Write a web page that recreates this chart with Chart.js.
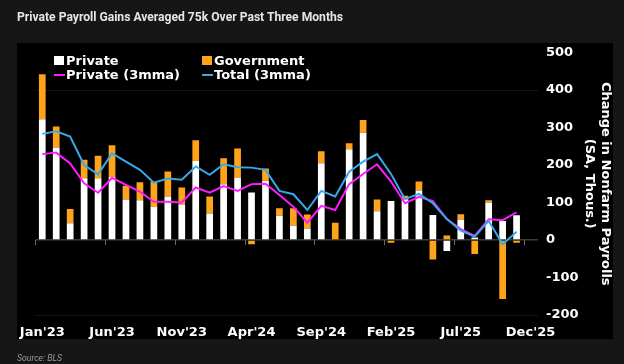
<!DOCTYPE html>
<html><head><meta charset="utf-8">
<script src="https://cdn.jsdelivr.net/npm/chart.js@4.4.1/dist/chart.umd.min.js"></script>
<style>
html,body{margin:0;padding:0;background:#161616;width:624px;height:364px;overflow:hidden;}
#box{position:absolute;left:17px;top:43px;width:596px;height:296px;background:#000;}
#c{position:absolute;left:0;top:0;}
#title{position:absolute;left:17px;top:10px;font:bold 13px Roboto;line-height:13px;color:#e6e6e6;white-space:nowrap;transform-origin:0 0;}
#src{position:absolute;left:17px;top:354px;font:italic 9px Roboto;line-height:9px;color:#9a9a9a;white-space:nowrap;transform-origin:0 0;}
.lt{position:absolute;font:bold 13px "DejaVu Sans";line-height:15px;color:#fff;white-space:nowrap;}
.sw{position:absolute;}
</style></head>
<body>
<div id="box"></div>
<canvas id="c" width="624" height="364"></canvas>
<div id="title">Private Payroll Gains Averaged 75k Over Past Three Months</div>
<div id="src">Source: BLS</div>
<div id="legend"></div>
<script>
const months = ["Jan'23","Feb'23","Mar'23","Apr'23","May'23","Jun'23","Jul'23","Aug'23","Sep'23","Oct'23","Nov'23","Dec'23",
"Jan'24","Feb'24","Mar'24","Apr'24","May'24","Jun'24","Jul'24","Aug'24","Sep'24","Oct'24","Nov'24","Dec'24",
"Jan'25","Feb'25","Mar'25","Apr'25","May'25","Jun'25","Jul'25","Aug'25","Sep'25","Oct'25","Nov'25","Dec'25"];
const privateJobs = [322,247,45,165,165,168,108,106,88,116,95,211,71,149,167,127,158,65,38,31,205,2,242,286,77,104,109,132,67,-29,55,7,100,51,66,null];
const governmentJobs = [120,56,38,49,60,85,37,48,68,67,45,55,45,69,77,-11,33,20,47,37,32,44,16,34,31,-7,9,24,-52,12,14,-37,6,-157,-7,null];
const private3mma = [229,233,204,151,126,166,147,129,102,102,100,140,126,144,131,149,150,120,89,46,91,80,149,176,202,156,98,115,104,56,29,11,55,53,74,null];
const total3mma = [283,290,276,200,175,231,209,187,153,164,161,196,174,202,194,193,187,131,122,80,131,116,182,209,229,176,109,123,98,56,25,9,51,-11,22,null];
const yTicks = [-200,-100,0,100,200,300,400,500];
const axisTitle = ['Change in Nonfarm Payrolls','(SA, Thous.)'];

const WHITE='#ffffff', ORANGE='#FFA31A', MAGENTA='#FF1AFF', BLUE='#35A9EA';
const tickFont={family:'DejaVu Sans',size:13,weight:'bold'};

const zeroTicks={id:'zeroTicks',afterDatasetsDraw(c){
  const x=c.scales.x,y=c.scales.y,ctx=c.ctx;
  const y0=y.getPixelForValue(0);
  const w=x.getPixelForValue(1)-x.getPixelForValue(0);
  ctx.save();ctx.strokeStyle='#6a6a6a';ctx.lineWidth=1;
  for(let i=0;i<months.length;i+=5){
    const px=Math.round(x.getPixelForValue(i)-w/2)+0.5;
    ctx.beginPath();ctx.moveTo(px,y0);ctx.lineTo(px,y0+5);ctx.stroke();
  }
  ctx.restore();
}};

const chart=new Chart(document.getElementById('c'),{
  type:'bar',
  data:{labels:months,datasets:[
    {label:'Private',data:privateJobs,backgroundColor:WHITE,borderWidth:0,stack:'bars',order:2,barPercentage:0.48,categoryPercentage:1},
    {label:'Government',data:governmentJobs,backgroundColor:ORANGE,borderWidth:0,stack:'bars',order:2,barPercentage:0.48,categoryPercentage:1},
    {type:'line',label:'Private (3mma)',data:private3mma,borderColor:MAGENTA,backgroundColor:MAGENTA,borderWidth:2,pointRadius:0,tension:0,stack:'m',order:1},
    {type:'line',label:'Total (3mma)',data:total3mma,borderColor:BLUE,backgroundColor:BLUE,borderWidth:2,pointRadius:0,tension:0,stack:'t',order:0}
  ]},
  options:{
    responsive:false,animation:false,
    layout:{padding:{left:35.3,top:52.5,right:0,bottom:0}},
    plugins:{legend:{display:false},tooltip:{enabled:false},title:{display:false}},
    scales:{
      x:{stacked:true,offset:true,grid:{display:false,drawTicks:false},border:{display:false},
        ticks:{autoSkip:false,maxRotation:0,minRotation:0,padding:10,color:'#ffffff',font:tickFont,
          callback:(v,i)=> i%5===0?months[i]:''},
        afterFit:s=>{s.height=49;}},
      y:{position:'right',stacked:true,min:-200,max:500,
        afterBuildTicks:s=>{s.ticks=yTicks.map(v=>({value:v}));},
        ticks:{padding:8.5,color:'#ffffff',font:tickFont},
        grid:{drawTicks:false,
          color:ctx=>{const v=ctx.tick&&ctx.tick.value; return v===0?'#3c3c3c':(v===400||v===-200?'#161616':'rgba(0,0,0,0)');},
          lineWidth:ctx=>(ctx.tick&&ctx.tick.value===0)?1.5:1},
        border:{display:false},
        title:{display:true,text:axisTitle,color:'#ffffff',font:tickFont,padding:{top:11,bottom:0}},
        afterFit:s=>{s.width=86.5;}}
    }
  },
  plugins:[zeroTicks]
});

// HTML legend built from dataset labels/colors
const leg=document.getElementById('legend');
const pos=[{x:54,y:53,kind:'box'},{x:202,y:53,kind:'box'},{x:54,y:67,kind:'line'},{x:202,y:67,kind:'line'}];
chart.data.datasets.forEach((d,i)=>{
  const p=pos[i];
  const sw=document.createElement('div');sw.className='sw';
  const col=d.type==='line'?d.borderColor:d.backgroundColor;
  if(p.kind==='box'){sw.style.cssText=`left:${p.x}px;top:${p.y+3}px;width:10px;height:9px;background:${col}`;}
  else{sw.style.cssText=`left:${p.x}px;top:${p.y+6.5}px;width:11px;height:2.5px;background:${col}`;}
  leg.appendChild(sw);
  const t=document.createElement('div');t.className='lt';t.textContent=d.label;
  t.style.left=(p.x+12)+'px';t.style.top=p.y+'px';
  leg.appendChild(t);
});

function fitW(id,w){const e=document.getElementById(id);const r=e.getBoundingClientRect().width;e.style.transform=`scaleX(${w/r})`;}
fitW('title',326);fitW('src',45);
</script>
</body></html>
